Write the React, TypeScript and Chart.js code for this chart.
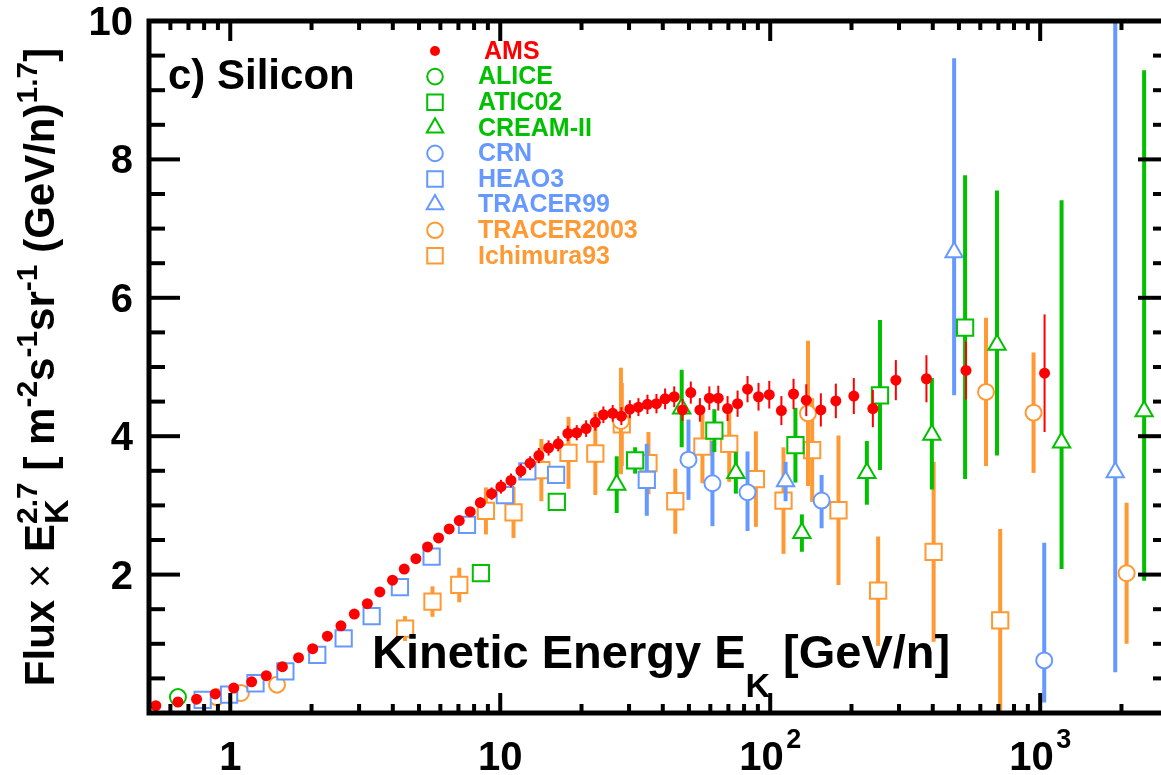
import React, { useEffect, useRef } from 'react';
import { Chart, registerables } from 'chart.js';

Chart.register(...registerables);

// ---------------- data ----------------
const AMS_E = [0.53, 0.64, 0.75, 0.88, 1.03, 1.2, 1.36, 1.56, 1.79, 2.02, 2.29, 2.57, 2.88, 3.22, 3.58, 3.99, 4.41, 4.87, 5.38, 5.91, 6.47, 7.05, 7.74, 8.44, 9.29, 10.06, 10.96, 11.93, 12.9, 13.9, 15.1, 16.4, 17.8, 19.2, 20.8, 22.5, 24.1, 26.1, 28.1, 30.2, 32.5, 35.1, 37.9, 40.8, 44.1, 47.3, 50.8, 54.9, 59.5, 64.2, 69.5, 75.7, 82.4, 90.5, 99.2, 110, 122, 136, 154, 175, 204, 240, 292, 379, 531, 1038];
const AMS_F = [0.105, 0.159, 0.2, 0.275, 0.36, 0.45, 0.54, 0.67, 0.8, 0.93, 1.11, 1.26, 1.43, 1.58, 1.75, 1.92, 2.08, 2.23, 2.4, 2.53, 2.66, 2.78, 2.91, 3.04, 3.17, 3.27, 3.36, 3.5, 3.61, 3.72, 3.83, 3.89, 4.04, 4.05, 4.11, 4.2, 4.31, 4.33, 4.29, 4.39, 4.42, 4.46, 4.47, 4.54, 4.57, 4.38, 4.63, 4.38, 4.55, 4.55, 4.4, 4.47, 4.68, 4.57, 4.6, 4.37, 4.61, 4.52, 4.38, 4.51, 4.58, 4.4, 4.81, 4.83, 4.95, 4.91];
const AMS_ERR = [0.03, 0.03, 0.03, 0.03, 0.03, 0.03, 0.03, 0.03, 0.03, 0.03, 0.03, 0.03, 0.03, 0.03, 0.03, 0.03, 0.03, 0.03, 0.03, 0.03, 0.03, 0.03, 0.03, 0.08, 0.09, 0.1, 0.1, 0.1, 0.1, 0.11, 0.11, 0.11, 0.11, 0.11, 0.12, 0.12, 0.12, 0.12, 0.13, 0.13, 0.13, 0.14, 0.14, 0.15, 0.15, 0.16, 0.16, 0.17, 0.17, 0.18, 0.18, 0.19, 0.19, 0.2, 0.2, 0.21, 0.22, 0.23, 0.24, 0.25, 0.26, 0.27, 0.29, 0.34, 0.42, 0.85];

const ALICE_E = [0.64];
const ALICE_F = [0.23];
const ALICE_LO = [0];
const ALICE_HI = [0];

const ATIC_E = [8.48, 16.2, 31.6, 62.1, 124, 255, 527];
const ATIC_F = [2.02, 3.05, 3.65, 4.08, 3.87, 4.59, 5.57];
const ATIC_LO = [0.05, 0.05, 0.19, 0.31, 0.54, 1.08, 2.19];
const ATIC_HI = [0.05, 0.05, 0.19, 0.31, 0.54, 1.09, 2.2];

const CREAM_E = [27.0, 47.0, 74.6, 131, 228, 397, 692, 1200, 2427];
const CREAM_F = [3.3, 4.4, 3.47, 2.6, 3.47, 4.02, 5.32, 3.91, 4.36];
const CREAM_LO = [0.41, 0.56, 0.3, 0.27, 0.46, 0.79, 1.6, 1.83, 2.45];
const CREAM_HI = [0.41, 0.56, 0.3, 0.27, 0.46, 0.82, 2.23, 3.5, 4.93];

const CRN_E = [49.8, 61.1, 82.4, 155, 1035];
const CRN_F = [3.66, 3.32, 3.19, 3.07, 0.76];
const CRN_LO = [0.58, 0.62, 0.56, 0.4, 0.61];
const CRN_HI = [0.58, 0.61, 0.59, 0.37, 1.7];

const HEAO_E = [0.79, 0.99, 1.24, 1.6, 2.1, 2.63, 3.34, 4.25, 5.57, 7.53, 10.4, 12.6, 16.1, 34.9];
const HEAO_F = [0.19, 0.265, 0.43, 0.6, 0.84, 1.08, 1.4, 1.82, 2.26, 2.72, 3.15, 3.49, 3.44, 3.37];
const HEAO_LO = [0, 0, 0, 0, 0, 0, 0, 0, 0, 0, 0, 0.05, 0.12, 0.52];
const HEAO_HI = [0, 0, 0, 0, 0, 0, 0, 0, 0, 0, 0, 0.05, 0.12, 0.52];

const TR99_E = [114, 480, 1897];
const TR99_F = [3.35, 6.66, 3.48];
const TR99_LO = [0.29, 2.07, 2.89];
const TR99_HI = [0.28, 2.8, 6.5];

const TR03_E = [0.89, 1.095, 1.49, 28.0, 138, 630, 945, 2090];
const TR03_F = [0.23, 0.29, 0.41, 4.22, 4.33, 4.64, 4.34, 2.02];
const TR03_LO = [0, 0, 0, 0.77, 1.05, 1.07, 0.87, 1.02];
const TR03_HI = [0, 0, 0, 0.77, 1.05, 1.07, 0.87, 1.02];

const ICH_E = [4.44, 5.61, 7.05, 8.85, 11.2, 14.2, 17.9, 22.5, 28.2, 35.4, 44.5, 56.1, 70.5, 88.5, 112, 143, 179, 251, 403, 711];
const ICH_F = [1.22, 1.61, 1.85, 2.92, 2.9, 3.51, 3.76, 3.75, 4.17, 3.61, 3.06, 3.85, 3.89, 3.38, 3.07, 3.8, 2.93, 1.77, 2.33, 1.34];
const ICH_LO = [0.18, 0.22, 0.25, 0.34, 0.37, 0.45, 0.52, 0.6, 0.6, 0.45, 0.47, 0.53, 0.55, 0.69, 0.77, 0.75, 1.08, 0.8, 1.3, 1.34];
const ICH_HI = [0.18, 0.22, 0.25, 0.34, 0.37, 0.45, 0.52, 0.6, 0.6, 0.45, 0.47, 0.53, 0.55, 0.69, 0.77, 0.75, 1.08, 0.78, 1.3, 1.32];

const X_TICKS = [1, 10, 100, 1000];
const X_TICK_BASE = ['1', '10', '10', '10'];
const X_TICK_EXP = ['', '', '2', '3'];
const Y_TICKS = [2, 4, 6, 8, 10];
const Y_TICK_LABELS = ['2', '4', '6', '8', '10'];

const X_MIN = 0.5;
const X_MAX = 3000;
const Y_MIN = 0;
const Y_MAX = 10;

const PANEL_LABEL = 'c) Silicon';

// ---------------- styles ----------------
const RED = '#ff0000';
const GREEN = '#00c000';
const BLUE = '#6699ff';
const ORANGE = '#ff9933';
const FONT = '"Liberation Sans", Arial, Helvetica, sans-serif';

function pts(E: number[], F: number[]) {
  return E.map((e, i) => ({ x: e, y: F[i] }));
}

type Seg = { t: string; s: number; dy?: number; w?: string } | { stack: Seg[] };

function segWidth(ctx: CanvasRenderingContext2D, seg: Seg): number {
  if ('stack' in seg) return Math.max(...seg.stack.map((s) => segWidth(ctx, s)));
  ctx.font = `${seg.w ?? 'bold'} ${seg.s}px ${FONT}`;
  return ctx.measureText(seg.t).width;
}

function drawSegs(ctx: CanvasRenderingContext2D, segs: Seg[], x: number, y: number, align: 'left' | 'center') {
  const total = segs.reduce((a, s) => a + segWidth(ctx, s), 0);
  let cx = align === 'center' ? x - total / 2 : x;
  ctx.textAlign = 'left';
  ctx.textBaseline = 'alphabetic';
  for (const seg of segs) {
    const w = segWidth(ctx, seg);
    const parts = 'stack' in seg ? seg.stack : [seg];
    for (const p of parts as any[]) {
      ctx.font = `${p.w ?? 'bold'} ${p.s}px ${FONT}`;
      ctx.fillText(p.t, cx, y + (p.dy || 0));
    }
    cx += w;
  }
}

function drawMarker(ctx: CanvasRenderingContext2D, style: string, x: number, y: number, r: number, color: string, filled: boolean) {
  ctx.save();
  ctx.lineWidth = 2;
  ctx.strokeStyle = color;
  ctx.fillStyle = filled ? color : '#ffffff';
  ctx.beginPath();
  if (style === 'circle') {
    ctx.arc(x, y, r, 0, Math.PI * 2);
  } else if (style === 'rect') {
    const h = r * Math.SQRT1_2;
    ctx.rect(x - h, y - h, 2 * h, 2 * h);
  } else {
    ctx.moveTo(x, y - r);
    ctx.lineTo(x + r * Math.sin((2 * Math.PI) / 3), y - r * Math.cos((2 * Math.PI) / 3));
    ctx.lineTo(x + r * Math.sin((4 * Math.PI) / 3), y - r * Math.cos((4 * Math.PI) / 3));
    ctx.closePath();
  }
  ctx.fill();
  if (!filled) ctx.stroke();
  ctx.restore();
}

const errorBarPlugin = {
  id: 'errbars',
  beforeDatasetDraw(chart: any, args: any) {
    const ds = chart.data.datasets[args.index];
    if (!ds.errLo) return;
    const { ctx, chartArea } = chart;
    const xs = chart.scales.x;
    const ys = chart.scales.y;
    ctx.save();
    ctx.beginPath();
    ctx.rect(chartArea.left, chartArea.top, chartArea.right - chartArea.left, chartArea.bottom - chartArea.top);
    ctx.clip();
    ctx.strokeStyle = ds.borderColor;
    ctx.lineWidth = ds.barWidth;
    ds.data.forEach((p: any, i: number) => {
      const lo = ds.errLo[i];
      const hi = ds.errHi[i];
      if (!lo && !hi) return;
      const x = xs.getPixelForValue(p.x);
      ctx.beginPath();
      ctx.moveTo(x, ys.getPixelForValue(p.y - lo));
      ctx.lineTo(x, ys.getPixelForValue(p.y + hi));
      ctx.stroke();
    });
    ctx.restore();
  },
};

const framePlugin = {
  id: 'frame',
  afterDraw(chart: any) {
    const { ctx, chartArea } = chart;
    const { left, right, top, bottom } = chartArea;
    const xs = chart.scales.x;
    const ys = chart.scales.y;
    ctx.save();
    ctx.strokeStyle = '#000';
    ctx.fillStyle = '#000';
    ctx.lineWidth = 5;
    ctx.strokeRect(left, top, right - left, bottom - top);
    ctx.lineWidth = 4;
    const line = (x1: number, y1: number, x2: number, y2: number) => {
      ctx.beginPath();
      ctx.moveTo(x1, y1);
      ctx.lineTo(x2, y2);
      ctx.stroke();
    };
    // y ticks
    for (let k = 1; k < 20; k++) {
      const v = k * 0.5;
      const y = ys.getPixelForValue(v);
      const major = k % 4 === 0;
      const len = major ? 31 : 16;
      line(left, y, left + len, y);
      line(right, y, right - len, y);
    }
    // x ticks
    for (const d of [0.1, 1, 10, 100, 1000]) {
      for (let m = 1; m <= 9; m++) {
        const v = m * d;
        if (v <= X_MIN * 1.0001 || v >= X_MAX * 0.9999) continue;
        const x = xs.getPixelForValue(v);
        const len = m === 1 ? 20 : 9;
        line(x, bottom, x, bottom - len);
        line(x, top, x, top + len);
      }
    }
    // y tick labels
    ctx.textAlign = 'right';
    ctx.textBaseline = 'alphabetic';
    ctx.font = `bold 40px ${FONT}`;
    Y_TICKS.forEach((v, i) => {
      ctx.fillText(Y_TICK_LABELS[i], 133, ys.getPixelForValue(v) + 14);
    });
    // x tick labels
    X_TICKS.forEach((v, i) => {
      const segs: Seg[] = [{ t: X_TICK_BASE[i], s: 40 }];
      if (X_TICK_EXP[i]) {
        segs.push({ t: '\u2009', s: 12 });
        segs.push({ t: X_TICK_EXP[i], s: 27, dy: -22 });
      }
      drawSegs(ctx, segs, xs.getPixelForValue(v), 770, 'center');
    });
    // x title inside plot
    drawSegs(
      ctx,
      [
        { t: 'Kinetic Energy E', s: 47 },
        { t: 'K', s: 34, dy: 29 },
        { t: ' [GeV/n]', s: 47 },
      ],
      372,
      668,
      'left'
    );
    // y title
    ctx.save();
    ctx.translate(54, (top + bottom) / 2);
    ctx.rotate(-Math.PI / 2);
    drawSegs(
      ctx,
      [
        { t: 'Flux ', s: 42 },
        { t: '\u00d7', s: 42, w: 'normal' },
        { t: ' E', s: 42 },
        { stack: [{ t: 'K', s: 34, dy: 14 }, { t: '2.7', s: 30, dy: -17 }] },
        { t: ' [ m', s: 42 },
        { t: '-2', s: 30, dy: -17 },
        { t: 's', s: 42 },
        { t: '-1', s: 30, dy: -17 },
        { t: 'sr', s: 42 },
        { t: '-1', s: 30, dy: -17 },
        { t: ' (GeV/n)', s: 42 },
        { t: '1.7', s: 30, dy: -17 },
        { t: ']', s: 42 },
      ],
      0,
      0,
      'center'
    );
    ctx.restore();
    // panel label
    ctx.fillStyle = '#000';
    ctx.textAlign = 'left';
    ctx.font = `bold 42px ${FONT}`;
    ctx.fillText(PANEL_LABEL, 168, 89);
    // legend
    ctx.font = `bold 25px ${FONT}`;
    ctx.textBaseline = 'middle';
    chart.data.datasets.forEach((ds: any, i: number) => {
      const y = 51 + i * 25.6;
      drawMarker(ctx, ds.pointStyle, 435, y, ds.legendR, ds.borderColor, ds.filled);
      ctx.fillStyle = ds.borderColor;
      ctx.fillText(ds.label, i === 0 ? 484 : 478, y + 1);
    });
    ctx.restore();
  },
};

function makeDs(label: string, E: number[], F: number[], lo: number[], hi: number[], color: string, style: string, r: number, legendR: number, filled: boolean, barWidth: number) {
  return {
    label,
    data: pts(E, F),
    errLo: lo,
    errHi: hi,
    barWidth,
    filled,
    legendR,
    pointStyle: style,
    pointRadius: r,
    pointHoverRadius: r,
    borderColor: color,
    backgroundColor: filled ? color : '#ffffff',
    pointBorderWidth: filled ? 0 : 2,
    borderWidth: filled ? 0 : 2,
    showLine: false,
  };
}

export default function App() {
  const ref = useRef<HTMLCanvasElement>(null);
  useEffect(() => {
    if (!ref.current) return;
    const datasets: any[] = [
      makeDs('AMS', AMS_E, AMS_F, AMS_ERR, AMS_ERR, RED, 'circle', 5.5, 5, true, 2),
      makeDs('ALICE', ALICE_E, ALICE_F, ALICE_LO, ALICE_HI, GREEN, 'circle', 8, 7.8, false, 4),
      makeDs('ATIC02', ATIC_E, ATIC_F, ATIC_LO, ATIC_HI, GREEN, 'rect', 11.5, 11, false, 4),
      makeDs('CREAM-II', CREAM_E, CREAM_F, CREAM_LO, CREAM_HI, GREEN, 'triangle', 10, 9.5, false, 4),
      makeDs('CRN', CRN_E, CRN_F, CRN_LO, CRN_HI, BLUE, 'circle', 8, 7.8, false, 4),
      makeDs('HEAO3', HEAO_E, HEAO_F, HEAO_LO, HEAO_HI, BLUE, 'rect', 11.5, 11, false, 4),
      makeDs('TRACER99', TR99_E, TR99_F, TR99_LO, TR99_HI, BLUE, 'triangle', 10, 9.5, false, 4),
      makeDs('TRACER2003', TR03_E, TR03_F, TR03_LO, TR03_HI, ORANGE, 'circle', 8, 7.8, false, 4),
      makeDs('Ichimura93', ICH_E, ICH_F, ICH_LO, ICH_HI, ORANGE, 'rect', 11.5, 11, false, 4),
    ];
    const chart = new Chart(ref.current, {
      type: 'scatter',
      data: { datasets },
      options: {
        responsive: false,
        animation: false,
        events: [],
        layout: { padding: { left: 149, right: 31, top: 21, bottom: 62 } },
        plugins: { legend: { display: false }, tooltip: { enabled: false } },
        scales: {
          x: { type: 'logarithmic', min: X_MIN, max: X_MAX, display: false },
          y: { type: 'linear', min: Y_MIN, max: Y_MAX, display: false },
        },
      } as any,
      plugins: [errorBarPlugin, framePlugin],
    });
    return () => chart.destroy();
  }, []);
  return (
    <div style={{ position: 'fixed', left: 0, top: 0, width: 1161, height: 775, overflow: 'hidden', background: '#fff' }}>
      <canvas ref={ref} width={1200} height={775} style={{ display: 'block', width: 1200, height: 775 }} />
    </div>
  );
}
